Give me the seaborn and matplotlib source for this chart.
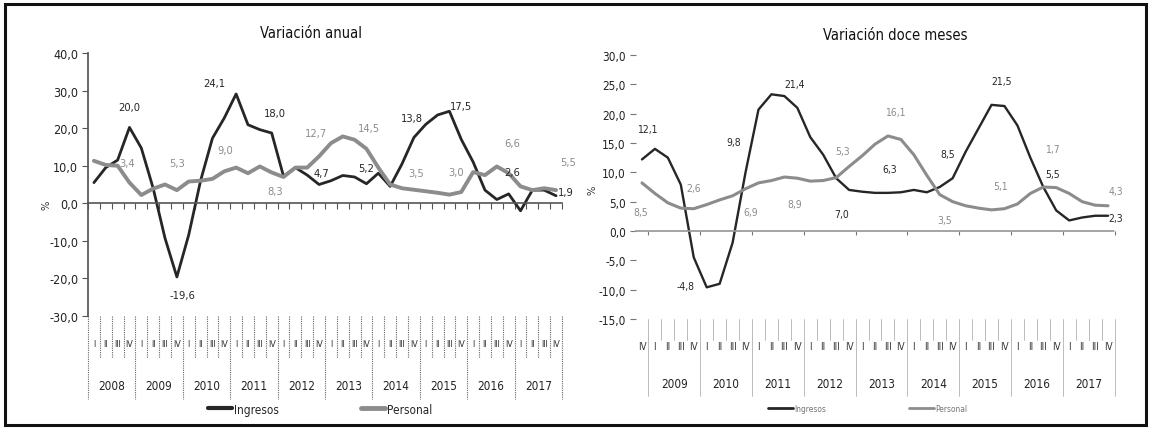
import numpy as np
import pandas as pd
import seaborn as sns
import matplotlib.pyplot as plt
import matplotlib.transforms as mtrans
from matplotlib.lines import Line2D
from matplotlib.patches import Rectangle
from matplotlib import font_manager

# ---- data: variación anual (2008-I .. 2017-IV)
years_a = [str(y) for y in range(2008, 2018)]
quarters = ['I', 'II', 'III', 'IV']
ingresos_a = [5.5, 9.5, 11.5, 20.2, 14.7, 4.0, -9.3, -19.6, -8.4, 6.0,
              17.3, 22.7, 29.1, 20.9, 19.6, 18.7, 7.2, 9.5, 7.5, 5.0,
              6.0, 7.4, 7.0, 5.2, 8.0, 4.5, 10.5, 17.5, 21.0, 23.5,
              24.5, 17.0, 11.0, 3.5, 1.0, 2.5, -2.0, 3.5, 3.5, 2.0]
personal_a = [11.3, 10.2, 10.0, 5.5, 2.2, 3.9, 5.0, 3.5, 5.8, 6.0,
              6.5, 8.5, 9.5, 8.0, 9.8, 8.2, 7.0, 9.5, 9.5, 12.5,
              16.0, 17.8, 16.9, 14.5, 9.5, 5.0, 4.0, 3.6, 3.2, 2.8,
              2.3, 3.0, 8.3, 7.5, 9.8, 8.0, 4.5, 3.5, 4.0, 3.5]
# annotations: text, category position, value, series ('I' dark / 'P' gray)
notes_a = [('20,0', 3.0, 25.5, 'I'), ('3,4', 2.8, 10.7, 'P'), ('5,3', 7.0, 10.7, 'P'),
           ('24,1', 10.2, 32.0, 'I'), ('9,0', 11.1, 14.2, 'P'), ('18,0', 15.3, 24.0, 'I'),
           ('8,3', 15.3, 3.2, 'P'), ('-19,6', 7.5, -24.5, 'I'), ('12,7', 18.7, 18.7, 'P'),
           ('4,7', 19.2, 8.0, 'I'), ('14,5', 23.2, 20.0, 'P'), ('5,2', 23.0, 9.3, 'I'),
           ('13,8', 26.8, 22.7, 'I'), ('17,5', 31.0, 25.8, 'I'), ('3,5', 27.2, 8.0, 'P'),
           ('3,0', 30.6, 8.4, 'P'), ('6,6', 35.3, 16.0, 'P'), ('2,6', 35.3, 8.4, 'I'),
           ('5,5', 40.0, 10.9, 'P'), ('1,9', 39.8, 2.9, 'I')]

# ---- data: variación doce meses (2008-IV .. 2017-IV)
years_b = [str(y) for y in range(2009, 2018)]
quarters_b = ['IV'] + quarters * 9
ingresos_b = [12.2, 14.0, 12.5, 7.9, -4.5, -9.6, -9.0, -2.0, 10.0, 20.7,
              23.3, 23.0, 21.0, 16.0, 13.0, 9.0, 7.0, 6.7, 6.5, 6.5,
              6.6, 7.0, 6.6, 7.5, 9.0, 13.5, 17.5, 21.5, 21.3, 18.0,
              12.5, 7.5, 3.5, 1.8, 2.3, 2.6, 2.6]
personal_b = [8.2, 6.4, 4.8, 3.9, 3.8, 4.5, 5.3, 6.0, 7.2, 8.2,
              8.6, 9.2, 9.0, 8.5, 8.6, 9.1, 11.0, 12.8, 14.8, 16.2,
              15.6, 13.0, 9.5, 6.2, 5.0, 4.3, 3.9, 3.6, 3.8, 4.6,
              6.4, 7.5, 7.4, 6.4, 5.0, 4.4, 4.3]
notes_b = [('12,1', 0.4, 17.4, 'I'), ('8,5', -0.1, 3.2, 'P'), ('2,6', 4.0, 7.4, 'P'),
           ('-4,8', 3.4, -9.3, 'I'), ('9,8', 7.1, 15.1, 'I'), ('6,9', 8.4, 3.2, 'P'),
           ('21,4', 11.8, 25.0, 'I'), ('8,9', 11.8, 4.6, 'P'), ('5,3', 15.5, 13.7, 'P'),
           ('7,0', 15.4, 2.9, 'I'), ('16,1', 19.6, 20.3, 'P'), ('6,3', 19.1, 10.6, 'I'),
           ('8,5', 23.6, 13.1, 'I'), ('3,5', 23.4, 1.8, 'P'), ('21,5', 27.8, 25.6, 'I'),
           ('5,1', 27.7, 7.7, 'P'), ('1,7', 31.7, 14.0, 'P'), ('5,5', 31.7, 9.7, 'I'),
           ('4,3', 36.6, 6.9, 'P'), ('2,3', 36.6, 2.3, 'I')]

DARK = '#262626'
GRAY = '#8c8c8c'

sns.set_theme(style='white')
names = {f.name for f in font_manager.fontManager.ttflist}
narrow = [n for n in ['Liberation Sans Narrow', 'DejaVu Sans Condensed'] if n in names]
plt.rcParams['font.family'] = narrow + ['DejaVu Sans']
plt.rcParams['font.stretch'] = 'condensed'

W, H = 1151, 431
fig = plt.figure(figsize=(W / 100, H / 100), dpi=100)
fig.patch.set_facecolor('white')


def long_df(ing, per):
    df = pd.DataFrame({'pos': np.arange(len(ing)), 'Ingresos': ing, 'Personal': per})
    return df.melt(id_vars='pos', var_name='serie', value_name='valor')


def fmt(v):
    return ('%.1f' % v).replace('.', ',')


def draw_panel(ax, df, widths, ticks, notes, fs_note):
    sns.lineplot(data=df, x='pos', y='valor', hue='serie', size='serie',
                 palette={'Ingresos': DARK, 'Personal': GRAY}, sizes=widths,
                 legend=False, ax=ax)
    ax.set_yticks(ticks)
    ax.set_yticklabels([fmt(t) for t in ticks])
    ax.set_xlabel('')
    ax.set_ylabel('')
    for txt, x, y, s in notes:
        ax.text(x, y, txt, ha='center', va='center', fontsize=fs_note,
                color=DARK if s == 'I' else GRAY)


# ---------------- left panel
ax1 = fig.add_axes([88 / W, 1 - 317 / H, 474 / W, 263 / H])
n_a = len(ingresos_a)
draw_panel(ax1, long_df(ingresos_a, personal_a), {'Ingresos': 2.0, 'Personal': 2.8},
           np.arange(-30, 41, 10), notes_a, 8)
ax1.set_xlim(-0.5, n_a - 0.5)
ax1.set_ylim(-30, 40)
for s in ['top', 'right']:
    ax1.spines[s].set_visible(False)
ax1.spines['left'].set_color('#555555')
ax1.spines['bottom'].set_position(('data', 0))
ax1.spines['bottom'].set_color('#555555')
ax1.spines['bottom'].set_linewidth(1.2)
ax1.set_xticks(np.arange(-0.5, n_a, 1))
ax1.set_xticklabels([])
ax1.tick_params(axis='x', direction='out', length=4, width=0.8, color='#555555', bottom=True)
ax1.tick_params(axis='y', direction='out', length=4, width=0.8, color='#555555', left=True,
                labelsize=9, labelcolor='#222222', pad=3)

tr1 = mtrans.blended_transform_factory(ax1.transData, ax1.transAxes)
for i in range(n_a):
    ax1.text(i, -0.106, quarters[i % 4], transform=tr1, ha='center', va='center',
             fontsize=6.5, color='#333333')
for k, y in enumerate(years_a):
    ax1.text(4 * k + 1.5, -0.266, y, transform=tr1, ha='center', va='center',
             fontsize=8.5, color='#222222')
for b in np.arange(-0.5, n_a, 1):
    low = -0.316 if (b + 0.5) % 4 == 0 else -0.16
    ax1.plot([b, b], [0, low], transform=tr1, clip_on=False, color='#666666',
             lw=0.8, ls=(0, (1, 1)))

h_a = [Line2D([], [], color=DARK, lw=3.0), Line2D([], [], color=GRAY, lw=3.5)]
ax1.legend(h_a, ['Ingresos', 'Personal'], loc='center', bbox_to_anchor=(0.49, -0.354),
           ncol=2, frameon=False, fontsize=8.5, handlelength=2.0, columnspacing=7.0,
           handletextpad=0.2)

# ---------------- right panel
ax2 = fig.add_axes([635.5 / W, 1 - 320 / H, 479 / W, 264 / H])
n_b = len(ingresos_b)
draw_panel(ax2, long_df(ingresos_b, personal_b), {'Ingresos': 1.7, 'Personal': 2.2},
           np.arange(-15, 31, 5), notes_b, 7.5)
ax2.set_xlim(-0.5, n_b - 0.5)
ax2.set_ylim(-15, 30)
for s in ['top', 'right', 'left']:
    ax2.spines[s].set_visible(False)
ax2.spines['bottom'].set_position(('data', 0))
ax2.spines['bottom'].set_color('#999999')
ax2.spines['bottom'].set_linestyle((0, (2, 1)))
ax2.set_xticks(np.arange(0.5, n_b, 4))
ax2.set_xticklabels([])
ax2.tick_params(axis='x', direction='out', length=3, width=0.8, color='#777777', bottom=True)
ax2.tick_params(axis='y', direction='out', length=4, width=0.8, color='#777777', left=True,
                labelsize=8.5, labelcolor='#222222', pad=3)

tr2 = mtrans.blended_transform_factory(ax2.transData, ax2.transAxes)
for i in range(n_b):
    ax2.text(i, -0.102, quarters_b[i], transform=tr2, ha='center', va='center',
             fontsize=7, color='#333333')
for k, y in enumerate(years_b):
    ax2.text(4 * k + 2.5, -0.246, y, transform=tr2, ha='center', va='center',
             fontsize=8.5, color='#222222')
for b in np.arange(0.5, n_b, 1):
    low = -0.29 if (b - 0.5) % 4 == 0 else -0.08
    ax2.plot([b, b], [0, low], transform=tr2, clip_on=False, color='#bbbbbb', lw=0.7)

h_b = [Line2D([], [], color=DARK, lw=2.0), Line2D([], [], color=GRAY, lw=2.0)]
ax2.legend(h_b, ['Ingresos', 'Personal'], loc='center', bbox_to_anchor=(0.485, -0.34),
           ncol=2, frameon=False, fontsize=6, handlelength=3.0, columnspacing=10.0,
           handletextpad=0.1, labelcolor='#777777')

# titles and axis names
fig.text(311 / W, 1 - 34 / H, 'Variación anual', ha='center', va='center', fontsize=10.5,
         color='#111111')
fig.text(895 / W, 1 - 35 / H, 'Variación doce meses', ha='center', va='center',
         fontsize=10.5, color='#111111')
fig.text(47 / W, 1 - 205 / H, '%', rotation=90, ha='center', va='center', fontsize=8,
         color='#333333')
fig.text(592 / W, 1 - 190 / H, '%', rotation=90, ha='center', va='center', fontsize=8,
         color='#333333')

# outer frame of the scanned figure
fig.add_artist(Rectangle((5 / W, 5 / H), 1 - 10 / W, 1 - 10 / H, transform=fig.transFigure,
                         fill=False, lw=2.2, ec='#111111'))

fig.savefig('out.png', dpi=100, facecolor='white')
